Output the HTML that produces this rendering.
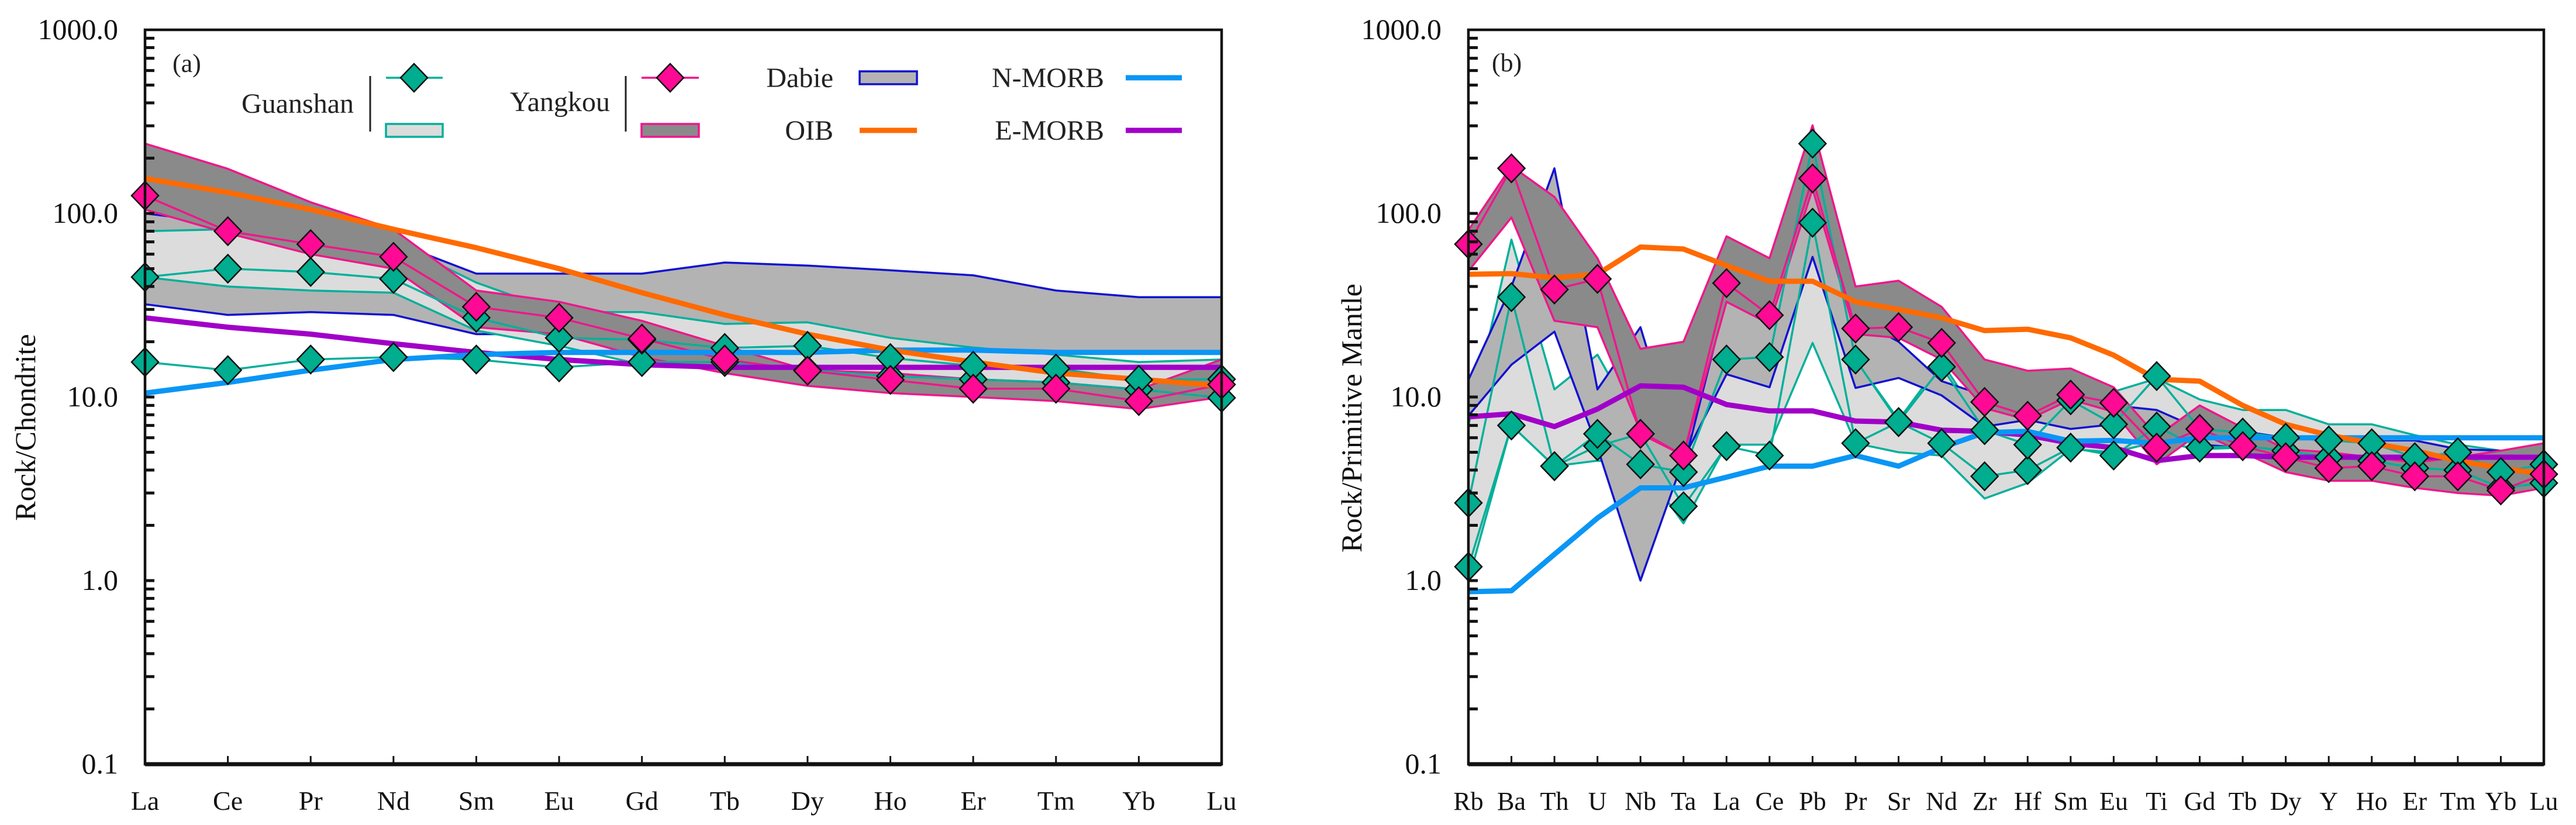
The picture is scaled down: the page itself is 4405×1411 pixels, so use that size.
<!DOCTYPE html>
<html><head><meta charset="utf-8"><title>REE and trace element diagrams</title>
<style>
html,body{margin:0;padding:0;background:#fff;}
svg{display:block;font-family:"Liberation Serif",serif;}
text{font-family:"Liberation Serif","Times New Roman",serif;}
</style></head>
<body>
<svg id="chart" xmlns="http://www.w3.org/2000/svg" width="4405" height="1411" viewBox="0 0 4405 1411" font-family="Liberation Serif, serif">
<rect x="0" y="0" width="4405" height="1411" fill="#fff"/>
<g id="panelA"></g>
<g id="panelB"></g>
</svg>
<script>
// ---------- Panel (a) data: chondrite-normalised REE ----------
const elemsA = ["La","Ce","Pr","Nd","Sm","Eu","Gd","Tb","Dy","Ho","Er","Tm","Yb","Lu"];
const aOIB   = [155,130,105,82,65,50,37,28,22,18,15.5,13.5,12.5,11.5];
const aNMORB = [10.5,12,14,16,17,17.5,17.5,17.5,17.5,18,18,17.5,17.5,17.5];
const aEMORB = [27,24,22,19.5,17.5,16,15,14.5,14.5,14.5,14.5,14.5,14.5,14.5];
const aDabieUp = [100,88,80,70,47,47,47,54,52,49,46,38,35,35];
const aDabieLo = [32,28,29,28,22,22,19.5,18.5,18,18,17.5,17.5,17.5,17.5];
const aGuanUp = [80,82,78,70,42,29,29,25,25.5,21,18.6,17,15.5,16];
const aGuanLo = [45,40,38,37,23,19,15,14.5,13.5,12.5,11.5,11,9,10];
const aYangUp = [240,175,115,82,38,33,26,19,14,13.5,12.5,12,11,16];
const aYangLo = [105,78,60,50,24,22,16.5,13.5,11.5,10.5,10,9.5,8.6,10];
const aGuan1 = [45,50,48,44,27,21,20.5,18.5,19,16.3,14.8,14.3,12.4,12.5];
const aGuan2 = [15.5,14,16,16.5,16,14.5,15.5,15.5,14,13,12.5,12,11,9.9];
const aYang1 = [125,80,68,58,31,27,20.8,16,13.9,12.4,11.1,11.1,9.5,11.7];

// ---------- Panel (b) data: primitive-mantle-normalised spider ----------
const elemsB = ["Rb","Ba","Th","U","Nb","Ta","La","Ce","Pb","Pr","Sr","Nd","Zr","Hf","Sm","Eu","Ti","Gd","Tb","Dy","Y","Ho","Er","Tm","Yb","Lu"];
const bOIB   = [46.6,47,44.6,46.6,65.6,64,52,42.7,42.7,33,30,27,23,23.4,21,16.9,12.5,12.2,9,7.1,6.2,5.6,5.1,4.5,4.1,3.8];
const bNMORB = [0.87,0.88,1.39,2.19,3.2,3.2,3.66,4.2,4.2,4.8,4.2,5.3,6.4,6.5,5.75,5.8,5.6,6,6,6,6,6,6,6,6,6];
const bEMORB = [7.8,8.1,6.9,8.6,11.5,11.3,9.1,8.4,8.4,7.4,7.3,6.6,6.5,6.2,5.6,5.3,4.5,4.8,4.8,4.7,4.7,4.7,4.7,4.7,4.7,4.7];
const bDabieUp = [12.4,40,176,11,24,4.1,35,29,144,27,20,12.2,10.2,10.4,10.2,9,8.5,6.7,6.5,6,5.9,5.8,5.8,5.2,5.1,5.1];
const bDabieLo = [7.9,15,22.7,5.3,1.0,4.6,13.3,11.3,58,11.2,12.7,10.2,6.9,7.5,6.7,7.1,6.9,5.5,5.3,5.1,4.5,4.4,4.4,3.9,3.8,3.8];
const bGuanUp = [7,72,11,17,6.5,5,16,17,240,16,7.5,15.5,6.9,10,10,10.7,12.6,9.7,8.5,8.5,7.1,7.1,6.2,5.5,5.1,4.8];
const bGuanLo = [1.0,7,4.2,4.5,4.3,2.05,5.5,5.5,19.7,5.6,5,4.8,2.8,3.4,5.2,5,5.7,5.2,5.3,5.1,4.5,4.4,4,3.6,3.1,3.4];
const bYangUp = [81,181,123,57,18.3,20,75,57,302,40,43,31,16,13.9,14.3,11.3,6.1,9,6.8,5.2,5,4.7,4.4,4.7,5.1,5.6];
const bYangLo = [48.5,95,26,24,6.5,4.8,33,25,136,22,21,16,8.7,7.5,9.7,8.3,4.3,6.4,5,3.9,3.5,3.5,3.2,3,2.9,3.2];
const bGuan1 = [2.65,35,4.2,6.3,4.3,3.9,16,16.5,240,16,7.3,14.6,6.6,5.5,9.6,7.1,13,6.7,6.4,6,5.8,5.6,4.7,5,3.9,4.3];
const bGuan2 = [1.19,7,4.2,5.4,6.3,2.54,5.4,4.8,89,5.6,7.3,5.6,3.7,4,5.3,4.8,6.9,5.3,5.4,5.1,4.7,4.5,4.1,4,3.2,3.4];
const bYang1 = [68,176,38.5,44,6.3,4.8,41.7,27.9,155,23.6,24,19.7,9.4,7.9,10.3,9.3,5.3,6.7,5.4,4.7,4.1,4.2,3.7,3.7,3.1,3.8];

const yTicks = [1000,100,10,1,0.1];
const yTickLabels = ["1000.0","100.0","10.0","1.0","0.1"];

const NS = "http://www.w3.org/2000/svg";
const TOP = 51, BOT = 1307;
const FONT = "Liberation Serif, Times New Roman, serif";
function yV(v){ return TOP + (3 - Math.log10(v)) * (BOT - TOP) / 4; }
function mk(tag, parent){ const e = document.createElementNS(NS, tag); parent.appendChild(e); return e; }

const TEAL = "#00b09a", TEALF = "#00ad8e", PINK = "#f0168c", PINKF = "#ff0a94";

function drawPanel(g, elems, L, R, cfg){
  const n = elems.length;
  const xI = i => L + i * (R - L) / (n - 1);
  const pts = arr => arr.map((v,i)=> xI(i).toFixed(1)+","+yV(v).toFixed(1)).join(" ");
  const field = (up, lo, fill, stroke, name) => {
    const p = mk("polygon", g);
    
    
    p.setAttribute("points", pts(up) + " " + lo.map((v,i)=>[i,v]).reverse().map(a=>xI(a[0]).toFixed(1)+","+yV(a[1]).toFixed(1)).join(" "));
    p.setAttribute("fill", fill); p.setAttribute("stroke", stroke); p.setAttribute("stroke-width", "3.5"); p.setAttribute("stroke-linejoin","round");
  };
  const line = (arr, color, w, name) => {
    const p = mk("polyline", g);
    
    
    p.setAttribute("points", pts(arr)); p.setAttribute("fill","none"); p.setAttribute("stroke", color); p.setAttribute("stroke-width", w); p.setAttribute("stroke-linejoin","round");
  };
  const diamonds = (arr, fill, name) => {
    arr.forEach((v,i)=>{
      const x = xI(i), y = yV(v);
      const d = mk("path", g);
      
      
      d.setAttribute("d", `M${x},${y-24} L${x+23},${y} L${x},${y+24} L${x-23},${y} Z`);
      d.setAttribute("fill", fill); d.setAttribute("stroke","#111"); d.setAttribute("stroke-width","2.5");
    });
  };
  cfg.fields.forEach(f => field(f[0], f[1], f[2], f[3], f[4]));
  line(cfg.guan1, TEAL, 3.5, "guanshan-sample-line");
  line(cfg.guan2, TEAL, 3.5, "guanshan-sample-line");
  line(cfg.yang1, PINK, 3.5, "yangkou-sample-line");
  line(cfg.emorb, "#a100c8", 9, "e-morb-line");
  line(cfg.nmorb, "#0a96f5", 9, "n-morb-line");
  line(cfg.oib, "#ff6a00", 9, "oib-line");
  diamonds(cfg.guan2, TEALF, "guanshan-marker");
  diamonds(cfg.guan1, TEALF, "guanshan-marker");
  diamonds(cfg.yang1, PINKF, "yangkou-marker");

  const fr = mk("rect", g);
  
  
  fr.setAttribute("x", L); fr.setAttribute("y", TOP); fr.setAttribute("width", R-L); fr.setAttribute("height", BOT-TOP);
  fr.setAttribute("fill","none"); fr.setAttribute("stroke","#111"); fr.setAttribute("stroke-width","4.5");
  const bx = mk("line", g);
  
  
  bx.setAttribute("x1", L); bx.setAttribute("x2", R); bx.setAttribute("y1", BOT); bx.setAttribute("y2", BOT); bx.setAttribute("stroke","#111"); bx.setAttribute("stroke-width","7");

  for (let e = -1; e < 3; e++){
    for (let m = 1; m <= 9; m++){
      const v = m * Math.pow(10, e);
      const t = mk("line", g);
      
      
      t.setAttribute("x1", L); t.setAttribute("x2", L+16); t.setAttribute("y1", yV(v)); t.setAttribute("y2", yV(v));
      t.setAttribute("stroke","#111"); t.setAttribute("stroke-width","5");
    }
  }
  yTicks.forEach((v,i)=>{
    const t = mk("text", g);
    
    
    t.setAttribute("x", L-46); t.setAttribute("y", yV(v)+16); t.setAttribute("text-anchor","end"); t.setAttribute("font-size","50"); t.setAttribute("fill","#111");
    t.setAttribute("font-family", FONT);
    t.textContent = yTickLabels[i];
  });
  elems.forEach((el,i)=>{
    if (i>0 && i<n-1){
      const t = mk("line", g);
      
      
      t.setAttribute("x1", xI(i)); t.setAttribute("x2", xI(i)); t.setAttribute("y1", BOT); t.setAttribute("y2", BOT-14); t.setAttribute("stroke","#111"); t.setAttribute("stroke-width","3");
    }
    const tx = mk("text", g);
    
    
    tx.setAttribute("x", xI(i)); tx.setAttribute("y", 1385); tx.setAttribute("text-anchor","middle"); tx.setAttribute("font-size", cfg.xfs); tx.setAttribute("fill","#111");
    tx.setAttribute("font-family", FONT);
    tx.textContent = el;
  });
}

const gA = document.getElementById("panelA");
drawPanel(gA, elemsA, 248, 2089, {
  fields: [[aDabieUp,aDabieLo,"#b3b3b3","#1212d0","dabie-field"],
           [aGuanUp,aGuanLo,"#dcdcdc",TEAL,"guanshan-field"],
           [aYangUp,aYangLo,"#8a8a8a",PINK,"yangkou-field"]],
  guan1:aGuan1, guan2:aGuan2, yang1:aYang1, oib:aOIB, nmorb:aNMORB, emorb:aEMORB, xfs:46
});
const gB = document.getElementById("panelB");
drawPanel(gB, elemsB, 2511, 4350, {
  fields: [[bGuanUp,bGuanLo,"#dcdcdc",TEAL,"guanshan-field"],
           [bDabieUp,bDabieLo,"#b3b3b3","#1212d0","dabie-field"],
           [bYangUp,bYangLo,"#8a8a8a",PINK,"yangkou-field"]],
  guan1:bGuan1, guan2:bGuan2, yang1:bYang1, oib:bOIB, nmorb:bNMORB, emorb:bEMORB, xfs:44
});
</script>
<svg style="position:absolute;left:0;top:0" width="4405" height="1411" viewBox="0 0 4405 1411" font-family="Liberation Serif, Times New Roman, serif">
  <text x="43" y="731" transform="rotate(-90 43 731)" text-anchor="middle" dominant-baseline="central" font-size="50" fill="#111" font-family="Liberation Serif, serif">Rock/Chondrite</text>
  <text x="2311" y="715" transform="rotate(-90 2311 715)" text-anchor="middle" dominant-baseline="central" font-size="50" fill="#111" font-family="Liberation Serif, serif">Rock/Primitive Mantle</text>
  <text x="295" y="123" font-size="44" fill="#222" font-family="Liberation Serif, serif">(a)</text>
  <text x="2551" y="122" font-size="44" fill="#222" font-family="Liberation Serif, serif">(b)</text>
  <g font-family="Liberation Serif, serif">
    <text x="605" y="193" text-anchor="end" font-size="48" fill="#222" font-family="Liberation Serif, serif">Guanshan</text>
    <line x1="633" y1="130" x2="633" y2="225" stroke="#222" stroke-width="3"/>
    <line x1="660" y1="133" x2="757" y2="133" stroke="#00b09a" stroke-width="3.5"/>
    <path d="M708,109 L731,133 L708,157 L685,133 Z" fill="#00ad8e" stroke="#111" stroke-width="2.5"/>
    <rect x="660" y="212" width="97" height="22" fill="#dcdcdc" stroke="#00b09a" stroke-width="3.5"/>

    <text x="1043" y="190" text-anchor="end" font-size="48" fill="#222" font-family="Liberation Serif, serif">Yangkou</text>
    <line x1="1070" y1="130" x2="1070" y2="225" stroke="#222" stroke-width="3"/>
    <line x1="1097" y1="133" x2="1195" y2="133" stroke="#f0168c" stroke-width="3.5"/>
    <path d="M1146,109 L1169,133 L1146,157 L1123,133 Z" fill="#ff0a94" stroke="#111" stroke-width="2.5"/>
    <rect x="1097" y="212" width="98" height="22" fill="#8a8a8a" stroke="#f0168c" stroke-width="3.5"/>

    <text x="1425" y="149" text-anchor="end" font-size="48" fill="#222" font-family="Liberation Serif, serif">Dabie</text>
    <rect x="1470" y="122" width="98" height="22" fill="#b3b3b3" stroke="#1212d0" stroke-width="3.5"/>
    <text x="1425" y="239" text-anchor="end" font-size="48" fill="#222" font-family="Liberation Serif, serif">OIB</text>
    <line x1="1470" y1="223" x2="1568" y2="223" stroke="#ff6a00" stroke-width="9"/>

    <text x="1888" y="149" text-anchor="end" font-size="48" fill="#222" font-family="Liberation Serif, serif">N-MORB</text>
    <line x1="1925" y1="133" x2="2021" y2="133" stroke="#0a96f5" stroke-width="9"/>
    <text x="1888" y="239" text-anchor="end" font-size="48" fill="#222" font-family="Liberation Serif, serif">E-MORB</text>
    <line x1="1925" y1="223" x2="2021" y2="223" stroke="#a100c8" stroke-width="9"/>
  </g>
</svg>
</body></html>
